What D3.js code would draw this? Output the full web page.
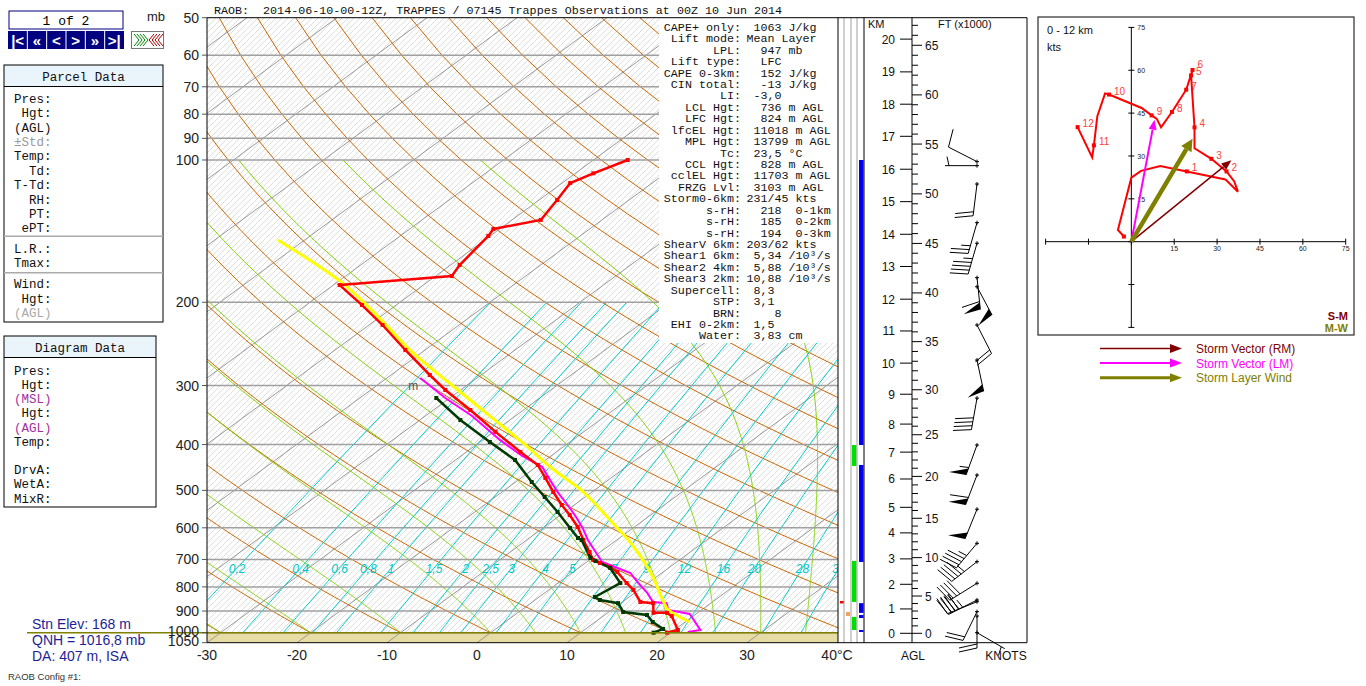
<!DOCTYPE html>
<html>
<head>
<meta charset="utf-8">
<script src="https://cdnjs.cloudflare.com/ajax/libs/d3/7.8.5/d3.min.js"></script>
<style>
body { margin: 0; background: #fff; }
svg { display: block; }
.mono { font-family: "Liberation Mono", "DejaVu Sans Mono", monospace; }
.sans { font-family: "Liberation Sans", Arial, sans-serif; }
</style>
</head>
<body>
<svg></svg>
<script>
let width = 1366
let height = 686

// sounding axes
let pressureTicks = [50, 60, 70, 80, 90, 100, 200, 300, 400, 500, 600, 700, 800, 900, 1000, 1050]
let pressureLines = [60, 70, 80, 90, 100, 200, 300, 400, 500, 600, 700, 800, 900, 1000]
let tempTicks = [-30, -20, -10, 0, 10, 20, 30, 40]
let tempTickLabels = ["-30", "-20", "-10", "0", "10", "20", "30", "40°C"]
let mixRatios = [0.2, 0.4, 0.6, 0.8, 1, 1.5, 2, 2.5, 3, 4, 5, 7, 9, 12, 16, 20, 28, 36]
let mixLabels = ["0,2", "0,4", "0,6", "0,8", "1", "1,5", "2", "2,5", "3", "4", "5", "7", "9", "12", "16", "20", "28", "36"]
let moistThetas = [-30, -20, -10, 0, 5, 10, 15, 20, 25, 30, 35]
let surfaceP = 1000

// temperature (red)
let tempP = [100, 106.7, 111.9, 121.5, 133.9, 139.9, 144.8, 166.8, 176, 183.9, 202.7, 223.4, 252.3, 285, 306.6, 338, 376, 414.6, 441.8, 470.6, 503.9, 536.8, 563.6, 597.5, 636.7, 675, 701.6, 712, 726, 744, 785, 812, 861, 866, 908, 908, 922, 987, 1000]
let tempT = [-56.2, -58.0, -59.1, -58.0, -56.8, -60.7, -60.2, -59.0, -58.2, -69.3, -63.8, -58.5, -52.2, -45.7, -41.7, -35.9, -29.8, -24.0, -20.1, -17.3, -14.3, -11.4, -9.0, -6.3, -3.7, -1.2, 0.4, 1.6, 3.3, 4.9, 7.6, 9.4, 12.0, 13.6, 15.1, 16.6, 17.6, 20.4, 19.6]
// dewpoint (dark green)
let dewP = [318.8, 354.9, 395, 431, 480, 516.3, 555.4, 600.4, 630.5, 636.7, 695, 705, 729.5, 785, 840.5, 852.7, 866, 904, 917.5, 949.3, 982, 1000]
let dewT = [-41.5, -35.5, -28.9, -23.4, -18.2, -14.5, -10.8, -7.0, -4.6, -3.9, -0.2, 0.8, 3.5, 6.9, 6.2, 7.2, 9.7, 11.6, 14.7, 16.4, 18.6, 18.1]
// virtual temperature (magenta)
let virtP = [289.2, 318.8, 348, 391, 422.8, 446, 475, 506.3, 539.5, 569, 600.4, 636.7, 708.5, 726, 747.6, 785, 824, 861, 866, 895, 913, 987, 996.6]
let virtT = [-46.3, -40.5, -34.8, -28.1, -23.2, -19.3, -16.5, -13.6, -10.5, -8.0, -5.6, -3.2, 1.7, 3.9, 6.5, 8.9, 11.4, 13.4, 15.1, 16.3, 19.3, 22.9, 21.8]
// parcel (yellow)
let parcelP = [147.6, 180, 223, 250, 300, 350, 400, 450, 500, 550, 600, 636.7, 679, 762, 853, 895, 949]
let parcelT = [-83, -70, -58.2, -52.2, -41.6, -32.5, -24.6, -17.9, -11.4, -6.3, -1.8, 1.3, 4.4, 9.6, 14.2, 16.3, 20.5]

// height scale
let kmLevels = [0, 1, 2, 3, 4, 5, 6, 7, 8, 9, 10, 11, 12, 13, 14, 15, 16, 17, 18, 19, 20]
let kmPressure = [1003, 890.8, 790, 698, 615, 543, 473, 415, 362, 313, 269, 230, 197, 168, 143.6, 122.5, 104.6, 89.1, 76.2, 65.1, 55.5]
let ftTicks = d3.range(0, 68)

// layer bars in the strip
let blueBars = [[100, 400.8], [441.8, 708.5], [866, 908], [917.5, 931], [987, 996.6]]
let greenBars = [[400.8, 444], [705, 861], [926, 987]]

// wind barbs
let barbP = [100.8, 102.8, 112.4, 135.7, 150, 177.4, 185.4, 223.4, 265, 319, 400.8, 464, 548, 647, 707.6, 786, 852.7, 860, 902.6, 922, 1000]
let barbDir = [297, 270, 187, 196, 196, 174, 152, 153, 168, 190, 200, 201, 202, 220, 232, 238, 243, 248, 206, 180, 120]
let barbSpd = [10, 5, 20, 25, 45, 60, 50, 20, 50, 40, 55, 60, 50, 45, 45, 40, 45, 40, 20, 20, 5]

// hodograph
let hodoU = [-2.6, -4.7, 0, 3.4, 10.1, 19.4, 32.9, 37.3, 36.0, 33.3, 28.0, 22.1, 22.1, 20.9, 21.4, 19.2, 14.2, 10.4, 8.9, 7.1, 3.6, -7.8, -9.2, -11.9, -13.1, -13.7, -18.8]
let hodoV = [1.8, 4.1, 22.4, 24.8, 26.5, 24.6, 21.8, 17.5, 21.1, 24.6, 29.0, 32.7, 40.0, 58.2, 60.1, 53.2, 45.4, 40.0, 43.0, 44.2, 46.8, 51.5, 51.9, 43.9, 33.7, 29.5, 40.1]
let hodoKm = [0, null, null, null, null, 1, null, null, null, 2, 3, null, 4, 5, 6, 7, 8, null, null, 9, null, 10, null, null, 11, null, 12]
let hodoTicks = [-30, -15, 0, 15, 30, 45, 60, 75]
let stormRM = [35.0, 28.5]
let stormLM = [8.1, 42.7]
let layerWind = [21.4, 36.0]

// text panels
let titleText = "RAOB:  2014-06-10-00-12Z, TRAPPES / 07145 Trappes Observations at 00Z 10 Jun 2014"
let paramLabels = ["CAPE+ only:", "Lift mode:", "LPL:", "Lift type:", "CAPE 0-3km:", "CIN total:", "LI:", "LCL Hgt:", "LFC Hgt:", "lfcEL Hgt:", "MPL Hgt:", "Tc:", "CCL Hgt:", "cclEL Hgt:", "FRZG Lvl:", "Storm0-6km:", "s-rH:", "s-rH:", "s-rH:", "ShearV 6km:", "Shear1 6km:", "Shear2 4km:", "Shear3 2km:", "Supercell:", "STP:", "BRN:", "EHI 0-2km:", "Water:"]
let paramValues = [" 1063 J/kg", "Mean Layer", "  947 mb", "  LFC", "  152 J/kg", "  -13 J/kg", " -3,0", "  736 m AGL", "  824 m AGL", " 11018 m AGL", " 13799 m AGL", " 23,5 °C", "  828 m AGL", " 11703 m AGL", " 3103 m AGL", "231/45 kts", "  218  0-1km", "  185  0-2km", "  194  0-3km", "203/62 kts", " 5,34 /10³/s", " 5,88 /10³/s", "10,88 /10³/s", " 8,3", " 3,1", "    8", " 1,5", " 3,83 cm"]
let parcelGroups = [["Pres:", "Hgt:", "(AGL)", "±Std:", "Temp:", "Td:", "T-Td:", "RH:", "PT:", "ePT:"], ["L.R.:", "Tmax:"], ["Wind:", "Hgt:", "(AGL)"]]
let diagramLabels = ["Pres:", "Hgt:", "(MSL)", "Hgt:", "(AGL)", "Temp:", "", "DrvA:", "WetA:", "MixR:"]
let navLabels = ["|<", "«", "<", ">", "»", ">|"]
let stationLines = ["Stn Elev: 168 m", "QNH = 1016,8 mb", "DA: 407 m, ISA"]

let svg = d3.select('svg')
            .attr('width', width)
            .attr('height', height)

let plotLeft = 207
let plotRight = 838
let plotTop = 17.7
let plotBottom = 642.7
let skew = 1.36

let y = d3.scaleLog().domain([50, 1050]).range([plotTop, plotBottom])
let tx = d3.scaleLinear().domain([-30, 40]).range([207, 837])
let sx = (t, p) => tx(t) + skew * (plotBottom - y(p))
let skewLine = d3.line().x(d => sx(d[1], d[0])).y(d => y(d[0]))

let esat = t => 6.112 * Math.exp(17.67 * t / (t + 243.5))
let moistRate = (tk, p) => {
    let es = esat(tk - 273.15)
    let rs = 0.622 * es / (p - es)
    let a = 287 * tk + 2.5e6 * rs
    let b = 1004 + 2.5e6 * 2.5e6 * rs * 0.622 / (287 * tk * tk)
    return a / (b * p)
}
let moistAdiabat = thw => {
    let pts = []
    let tk = thw + 273.15
    for (let p = 1000; p >= 100; p -= 2) {
        pts.push([p, tk - 273.15])
        let k1 = moistRate(tk, p)
        let k2 = moistRate(tk - 2 * k1, p - 2)
        tk = tk - (k1 + k2)
    }
    return pts
}
let mixTemp = (w, p) => {
    let l = Math.log(w * p / (622 + w) / 6.112)
    return 243.5 * l / (17.67 - l)
}

let defs = svg.append('defs')
defs.append('clipPath').attr('id', 'plotClip')
    .append('rect')
    .attr('x', plotLeft).attr('y', plotTop)
    .attr('width', plotRight - plotLeft).attr('height', plotBottom - plotTop)
defs.append('clipPath').attr('id', 'airClip')
    .append('rect')
    .attr('x', plotLeft).attr('y', plotTop)
    .attr('width', plotRight - plotLeft).attr('height', y(surfaceP) - plotTop)
let hatch = defs.append('pattern').attr('id', 'hatch')
    .attr('patternUnits', 'userSpaceOnUse')
    .attr('width', 6).attr('height', 6)
hatch.append('path')
     .attr('d', 'M0,6 L6,0 M-1,1 L1,-1 M5,7 L7,5')
     .attr('stroke', '#d6d6d6')
     .attr('stroke-width', 0.8)

let drawGrid = () => {
    let g = svg.append('g').attr('clip-path', 'url(#plotClip)')
    g.append('rect')
     .attr('x', plotLeft).attr('y', plotTop)
     .attr('width', plotRight - plotLeft).attr('height', y(surfaceP) - plotTop)
     .attr('fill', 'url(#hatch)')
    g.append('rect')
     .attr('x', plotLeft).attr('y', y(surfaceP))
     .attr('width', plotRight - plotLeft).attr('height', plotBottom - y(surfaceP))
     .attr('fill', '#e6dca4')

    let isotherms = d3.range(-140, 50, 10)
    g.selectAll('.iso').data(isotherms).enter().append('path')
     .attr('d', t => skewLine([[1050, t], [50, t]]))
     .attr('stroke', '#999').attr('stroke-width', 1).attr('fill', 'none')

    let air = g.append('g').attr('clip-path', 'url(#airClip)')
    let dryThetas = d3.range(-30, 250, 10)
    air.selectAll('.dry').data(dryThetas).enter().append('path')
       .attr('d', th => skewLine(d3.range(50, 1001, 10).map(p => [p, (th + 273.15) * Math.pow(p / 1000, 0.2857) - 273.15])))
       .attr('stroke', '#cc6600').attr('stroke-width', 1).attr('fill', 'none')
    air.selectAll('.moist').data(moistThetas).enter().append('path')
       .attr('d', th => skewLine(moistAdiabat(th)))
       .attr('stroke', '#7fd000').attr('stroke-width', 1).attr('fill', 'none')
    air.selectAll('.mix').data(mixRatios).enter().append('path')
       .attr('d', w => skewLine(d3.range(200, 1001, 10).map(p => [p, mixTemp(w, p)])))
       .attr('stroke', '#00cccc').attr('stroke-width', 1).attr('fill', 'none')

    g.selectAll('.pline').data(pressureLines).enter().append('line')
     .attr('x1', plotLeft).attr('x2', plotRight)
     .attr('y1', p => y(p)).attr('y2', p => y(p))
     .attr('stroke', '#a0a0a0').attr('stroke-width', 1.5)

    g.selectAll('.mixlab').data(mixRatios).enter().append('text')
     .attr('class', 'sans')
     .attr('x', w => sx(mixTemp(w, 730), 730))
     .attr('y', y(730) + 4.5)
     .attr('text-anchor', 'middle')
     .attr('font-size', 12).attr('font-style', 'italic')
     .attr('fill', '#00c8c8')
     .text((w, i) => mixLabels[i])
}

let drawParams = () => {
    svg.append('rect')
       .attr('x', 659).attr('y', plotTop)
       .attr('width', plotRight - 659).attr('height', 343 - plotTop)
       .attr('fill', '#fff')
    let g = svg.append('g').attr('class', 'mono').attr('font-size', 11.7).attr('fill', '#111')
    paramLabels.forEach((lab, i) => {
        g.append('text').attr('x', 741).attr('y', 30.8 + i * 11.43)
         .attr('text-anchor', 'end').attr('xml:space', 'preserve').text(lab)
        g.append('text').attr('x', 746.5).attr('y', 30.8 + i * 11.43)
         .attr('xml:space', 'preserve').text(paramValues[i])
    })
}

let drawProfiles = () => {
    let g = svg.append('g').attr('clip-path', 'url(#plotClip)')
    let zip = (ps, ts) => ps.map((p, i) => [p, ts[i]])
    let virt = zip(virtP, virtT)
    let temp = zip(tempP, tempT)
    let dew = zip(dewP, dewT)
    let parcel = zip(parcelP, parcelT)
    g.append('path').attr('d', skewLine(virt))
     .attr('stroke', '#ff00ff').attr('stroke-width', 2).attr('fill', 'none')
    g.append('path').attr('d', d3.line().curve(d3.curveMonotoneY).x(d => sx(d[1], d[0])).y(d => y(d[0]))(parcel))
     .attr('stroke', '#ffff00').attr('stroke-width', 3).attr('fill', 'none')
    g.append('path').attr('d', skewLine(temp))
     .attr('stroke', '#ff0000').attr('stroke-width', 2.5).attr('fill', 'none')
    g.append('path').attr('d', skewLine(dew))
     .attr('stroke', '#003a00').attr('stroke-width', 2.5).attr('fill', 'none')
    g.selectAll('.tm').data(temp).enter().append('rect')
     .attr('x', d => sx(d[1], d[0]) - 2).attr('y', d => y(d[0]) - 2)
     .attr('width', 4).attr('height', 4).attr('fill', '#ff0000')
    g.selectAll('.dm').data(dew).enter().append('rect')
     .attr('x', d => sx(d[1], d[0]) - 2).attr('y', d => y(d[0]) - 2)
     .attr('width', 4).attr('height', 4).attr('fill', '#003a00')
    g.append('text').attr('class', 'sans')
     .attr('x', sx(-46.5, 300)).attr('y', y(300) + 4)
     .attr('font-size', 12).attr('fill', '#555').text('m')
}

let drawFrame = () => {
    svg.append('line')
       .attr('x1', 27).attr('x2', plotRight)
       .attr('y1', y(surfaceP)).attr('y2', y(surfaceP))
       .attr('stroke', '#808000').attr('stroke-width', 1.5)
    svg.append('path')
       .attr('d', `M${plotLeft},${plotTop} V${plotBottom} H${plotRight} V${plotTop} Z`)
       .attr('stroke', '#000').attr('stroke-width', 1).attr('fill', 'none')

    svg.selectAll('.ptick').data(pressureTicks).enter().append('line')
       .attr('x1', plotLeft - 5).attr('x2', plotLeft)
       .attr('y1', p => y(p)).attr('y2', p => y(p))
       .attr('stroke', '#555')
    svg.selectAll('.plab').data(pressureTicks).enter().append('text')
       .attr('class', 'sans')
       .attr('x', 199).attr('y', p => y(p) + (p >= 1000 ? 3 : 5))
       .attr('text-anchor', 'end').attr('font-size', 14).attr('fill', '#222')
       .text(p => p)
    svg.selectAll('.tlab').data(tempTicks).enter().append('text')
       .attr('class', 'sans')
       .attr('x', t => tx(t)).attr('y', 660)
       .attr('text-anchor', 'middle').attr('font-size', 14).attr('fill', '#222')
       .text((t, i) => tempTickLabels[i])

    svg.append('text').attr('class', 'mono')
       .attr('x', 214).attr('y', 13.5).attr('font-size', 11.7).attr('fill', '#111')
       .attr('xml:space', 'preserve').text(titleText)
}

let drawBarb = (g, x, yb, dir, spd) => {
    let rad = dir * Math.PI / 180
    let dx = Math.sin(rad)
    let dy = -Math.cos(rad)
    let px = -dy
    let py = dx
    let len = 32
    let tipX = x + dx * len
    let tipY = yb + dy * len
    g.append('line').attr('x1', x).attr('y1', yb).attr('x2', tipX).attr('y2', tipY)
     .attr('stroke', '#000').attr('stroke-width', 1)
    g.append('path').attr('d', `M${x - 2},${yb} H${x + 2} M${x},${yb - 2} V${yb + 2}`)
     .attr('stroke', '#000').attr('stroke-width', 1)
    let s = Math.round(spd / 5) * 5
    let n50 = Math.floor(s / 50)
    s -= n50 * 50
    let n10 = Math.floor(s / 10)
    s -= n10 * 10
    let n5 = s >= 5 ? 1 : 0
    let pos = 0
    for (let i = 0; i < n50; i++) {
        let ax = tipX - dx * pos, ay = tipY - dy * pos
        let bx = tipX - dx * (pos + 7), by = tipY - dy * (pos + 7)
        let cx = ax + px * 17 + dx * 3, cy = ay + py * 17 + dy * 3
        g.append('path').attr('d', `M${ax},${ay} L${cx},${cy} L${bx},${by} Z`).attr('fill', '#000')
        pos += 8
    }
    for (let i = 0; i < n10; i++) {
        let ax = tipX - dx * pos, ay = tipY - dy * pos
        g.append('line').attr('x1', ax).attr('y1', ay)
         .attr('x2', ax + px * 18 + dx * 4).attr('y2', ay + py * 18 + dy * 4)
         .attr('stroke', '#000').attr('stroke-width', 1)
        pos += 4
    }
    if (n5) {
        if (pos === 0) pos = 4
        let ax = tipX - dx * pos, ay = tipY - dy * pos
        g.append('line').attr('x1', ax).attr('y1', ay)
         .attr('x2', ax + px * 9 + dx * 2).attr('y2', ay + py * 9 + dy * 2)
         .attr('stroke', '#000').attr('stroke-width', 1)
    }
}

let drawWindPanel = () => {
    let hY = d3.scaleLinear().domain(kmLevels).range(kmPressure.map(p => y(p)))
    let g = svg.append('g')
    g.selectAll('.blue').data(blueBars).enter().append('rect')
     .attr('x', 859).attr('y', d => y(d[0])).attr('width', 4.5)
     .attr('height', d => y(d[1]) - y(d[0])).attr('fill', '#0000ee')
    g.selectAll('.green').data(greenBars).enter().append('rect')
     .attr('x', 852).attr('y', d => y(d[0])).attr('width', 4.5)
     .attr('height', d => y(d[1]) - y(d[0])).attr('fill', '#00e000')
    g.append('rect').attr('x', 840).attr('y', y(861) - 1).attr('width', 4).attr('height', 2.5).attr('fill', '#ee0000')
    g.append('rect').attr('x', 846).attr('y', y(904)).attr('width', 4).attr('height', y(922) - y(904)).attr('fill', '#f4a060')
    g.selectAll('.strip').data([844, 851, 857]).enter().append('line')
     .attr('x1', d => d).attr('x2', d => d).attr('y1', plotTop).attr('y2', plotBottom)
     .attr('stroke', '#a0a0a0').attr('stroke-width', 1)
    g.append('line').attr('x1', 864).attr('x2', 864).attr('y1', plotTop).attr('y2', plotBottom).attr('stroke', '#000')
    g.append('path').attr('d', `M${plotRight},${plotTop} H1027 V${plotBottom} H${plotRight}`)
     .attr('stroke', '#000').attr('fill', 'none')
    g.append('line').attr('x1', 912).attr('x2', 912).attr('y1', plotTop).attr('y2', plotBottom).attr('stroke', '#000')

    g.selectAll('.kmtick').data(kmLevels).enter().append('line')
     .attr('x1', 900).attr('x2', 912).attr('y1', k => hY(k)).attr('y2', k => hY(k)).attr('stroke', '#000')
    g.selectAll('.kmlab').data(kmLevels).enter().append('text')
     .attr('class', 'sans').attr('x', 895).attr('y', k => hY(k) + 4.5)
     .attr('text-anchor', 'end').attr('font-size', 12).attr('fill', '#111').text(k => k)
    g.selectAll('.fttick').data(ftTicks).enter().append('line')
     .attr('x1', 912).attr('x2', f => f % 5 === 0 ? 922 : 918)
     .attr('y1', f => hY(f * 0.3048)).attr('y2', f => hY(f * 0.3048)).attr('stroke', '#000')
    g.selectAll('.ftlab').data(ftTicks.filter(f => f % 5 === 0)).enter().append('text')
     .attr('class', 'sans').attr('x', 925).attr('y', f => hY(f * 0.3048) + 4.5)
     .attr('font-size', 12).attr('fill', '#111').text(f => f)

    g.append('text').attr('class', 'sans').attr('x', 868).attr('y', 28).attr('font-size', 11).attr('fill', '#111').text('KM')
    g.append('text').attr('class', 'sans').attr('x', 938).attr('y', 28).attr('font-size', 11).attr('fill', '#111').text('FT (x1000)')
    g.append('text').attr('class', 'sans').attr('x', 913).attr('y', 660).attr('text-anchor', 'middle').attr('font-size', 12).attr('fill', '#111').text('AGL')
    g.append('text').attr('class', 'sans').attr('x', 1006).attr('y', 660).attr('text-anchor', 'middle').attr('font-size', 12).attr('fill', '#111').text('KNOTS')

    let bg = svg.append('g')
    barbP.forEach((p, i) => drawBarb(bg, 977, y(p), barbDir[i], barbSpd[i]))
}

let arrowHead = (g, x0, y0, x1, y1, len, hw, color) => {
    let l = Math.hypot(x1 - x0, y1 - y0)
    let ux = (x1 - x0) / l, uy = (y1 - y0) / l
    let bx = x1 - ux * len, by = y1 - uy * len
    g.append('path')
     .attr('d', `M${x1},${y1} L${bx - uy * hw},${by + ux * hw} L${bx + uy * hw},${by - ux * hw} Z`)
     .attr('fill', color)
    return [bx, by]
}

let drawHodograph = () => {
    let hx = d3.scaleLinear().domain([-30, 75]).range([1045.6, 1345.7])
    let hy = d3.scaleLinear().domain([-30, 75]).range([327.4, 27.4])
    let g = svg.append('g')
    g.append('rect').attr('x', 1038).attr('y', 17).attr('width', 316).attr('height', 318)
     .attr('fill', '#fff').attr('stroke', '#000')
    g.append('line').attr('x1', hx(-30)).attr('x2', hx(75)).attr('y1', hy(0)).attr('y2', hy(0)).attr('stroke', '#000')
    g.append('line').attr('x1', hx(0)).attr('x2', hx(0)).attr('y1', hy(-30)).attr('y2', hy(75)).attr('stroke', '#000')
    g.selectAll('.hxt').data(hodoTicks).enter().append('line')
     .attr('x1', d => hx(d)).attr('x2', d => hx(d)).attr('y1', hy(0) - 3).attr('y2', hy(0) + 3).attr('stroke', '#000')
    g.selectAll('.hyt').data(hodoTicks).enter().append('line')
     .attr('x1', hx(0) - 3).attr('x2', hx(0) + 3).attr('y1', d => hy(d)).attr('y2', d => hy(d)).attr('stroke', '#000')
    g.selectAll('.hxl').data(hodoTicks.filter(d => d > 0)).enter().append('text')
     .attr('class', 'sans').attr('x', d => hx(d)).attr('y', hy(0) + 9)
     .attr('text-anchor', 'middle').attr('font-size', 7).attr('fill', '#222').text(d => d)
    g.selectAll('.hyl').data(hodoTicks.filter(d => d > 0)).enter().append('text')
     .attr('class', 'sans').attr('x', hx(0) + 6).attr('y', d => hy(d) + 3)
     .attr('font-size', 7).attr('fill', '#222').text(d => d)

    g.append('text').attr('class', 'sans').attr('x', 1047).attr('y', 34).attr('font-size', 11).attr('fill', '#111').text('0 - 12 km')
    g.append('text').attr('class', 'sans').attr('x', 1047).attr('y', 51).attr('font-size', 11).attr('fill', '#111').text('kts')
    g.append('text').attr('class', 'sans').attr('x', 1348).attr('y', 320).attr('text-anchor', 'end')
     .attr('font-size', 11).attr('font-weight', 'bold').attr('fill', '#800000').text('S-M')
    g.append('text').attr('class', 'sans').attr('x', 1348).attr('y', 332).attr('text-anchor', 'end')
     .attr('font-size', 11).attr('font-weight', 'bold').attr('fill', '#808000').text('M-W')

    let pts = hodoU.map((u, i) => [u, hodoV[i], hodoKm[i]])
    g.append('path')
     .attr('d', d3.line().x(d => hx(d[0])).y(d => hy(d[1]))(pts))
     .attr('stroke', '#ff0000').attr('stroke-width', 2).attr('fill', 'none')
    let marked = pts.filter(d => d[2] !== null)
    g.selectAll('.hm').data(marked).enter().append('rect')
     .attr('x', d => hx(d[0]) - 2).attr('y', d => hy(d[1]) - 2)
     .attr('width', 4).attr('height', 4).attr('fill', '#ff0000')
    g.selectAll('.hl').data(marked.filter(d => d[2] > 0)).enter().append('text')
     .attr('class', 'sans').attr('x', d => hx(d[0]) + 5).attr('y', d => hy(d[1]) - (d[2] === 6 ? 1.5 : 0))
     .attr('font-size', 10).attr('fill', '#ff4040').text(d => d[2])

    let vec = (v, color, w, len, hw) => {
        let x0 = hx(0), y0 = hy(0), x1 = hx(v[0]), y1 = hy(v[1])
        let b = arrowHead(g, x0, y0, x1, y1, len, hw, color)
        g.append('line').attr('x1', x0).attr('y1', y0).attr('x2', b[0]).attr('y2', b[1])
         .attr('stroke', color).attr('stroke-width', w)
    }
    vec(stormRM, '#800000', 1.5, 10, 4)
    vec(stormLM, '#ff00ff', 2, 10, 4)
    vec(layerWind, '#808000', 4.5, 12, 6)

    let legend = [["Storm Vector (RM)", '#800000', 1.5], ["Storm Vector (LM)", '#ff00ff', 2], ["Storm Layer Wind", '#808000', 3]]
    legend.forEach((d, i) => {
        let ly = 348.5 + i * 14.6
        let b = arrowHead(g, 1100, ly, 1182, ly, 12, 4.5, d[1])
        g.append('line').attr('x1', 1100).attr('y1', ly).attr('x2', b[0]).attr('y2', ly)
         .attr('stroke', d[1]).attr('stroke-width', d[2])
        g.append('text').attr('class', 'sans').attr('x', 1196).attr('y', ly + 4.5)
         .attr('font-size', 12).attr('fill', d[1]).text(d[0])
    })
}

let drawLeftPanels = () => {
    let g = svg.append('g')
    g.append('rect').attr('x', 9).attr('y', 11).attr('width', 114).attr('height', 18)
     .attr('fill', '#fff').attr('stroke', '#000080')
    g.append('text').attr('class', 'mono').attr('x', 66).attr('y', 25)
     .attr('text-anchor', 'middle').attr('font-size', 13).attr('fill', '#000').text('1 of 2')
    g.append('rect').attr('x', 8).attr('y', 31).attr('width', 116).attr('height', 18).attr('fill', '#000080')
    let cell = 116 / 6
    navLabels.forEach((t, i) => {
        if (i > 0) {
            g.append('line').attr('x1', 8 + i * cell).attr('x2', 8 + i * cell).attr('y1', 31).attr('y2', 49)
             .attr('stroke', '#fff').attr('stroke-width', 1)
        }
        g.append('text').attr('class', 'sans').attr('x', 8 + (i + 0.5) * cell).attr('y', 45.5)
         .attr('text-anchor', 'middle').attr('font-size', 15).attr('font-weight', 'bold').attr('fill', '#fff').text(t)
    })
    g.append('text').attr('class', 'sans').attr('x', 156).attr('y', 21)
     .attr('text-anchor', 'middle').attr('font-size', 13).attr('fill', '#222').text('mb')
    g.append('rect').attr('x', 131.5).attr('y', 31.5).attr('width', 32).attr('height', 17)
     .attr('fill', '#fff').attr('stroke', '#777')
    d3.range(4).forEach(i => {
        g.append('path').attr('d', `M${134 + i * 3},${34} L${139 + i * 3},${40} L${134 + i * 3},${46}`)
         .attr('stroke', '#008000').attr('fill', 'none')
        g.append('path').attr('d', `M${154 + i * 3},${34} L${149 + i * 3},${40} L${154 + i * 3},${46}`)
         .attr('stroke', '#a00000').attr('fill', 'none')
    })

    let panel = (x, yTop, w, h, title, titleY) => {
        g.append('rect').attr('x', x).attr('y', yTop).attr('width', w).attr('height', 21.5)
         .attr('fill', '#eaf4fb')
        g.append('rect').attr('x', x).attr('y', yTop).attr('width', w).attr('height', h)
         .attr('fill', 'none').attr('stroke', '#000')
        g.append('line').attr('x1', x).attr('x2', x + w).attr('y1', yTop + 21.5).attr('y2', yTop + 21.5).attr('stroke', '#000')
        g.append('text').attr('class', 'mono').attr('x', x + w / 2).attr('y', titleY)
         .attr('text-anchor', 'middle').attr('font-size', 12.5).attr('fill', '#111').text(title)
    }
    panel(4, 65, 159, 257, 'Parcel Data', 80.5)
    panel(4, 336, 152, 171, 'Diagram Data', 351.5)

    let lab = (t, yc, color) => {
        g.append('text').attr('class', 'mono').attr('x', 51.4).attr('y', yc + 4.4)
         .attr('text-anchor', 'end').attr('font-size', 12.5).attr('fill', color).text(t)
    }
    let starts = [98.3, 248.3, 284]
    parcelGroups.forEach((grp, gi) => {
        grp.forEach((t, i) => {
            let color = '#111'
            if (t === '±Std:') color = '#999'
            if (gi === 2 && t === '(AGL)') color = '#aaa'
            lab(t, starts[gi] + i * 14.4, color)
        })
    })
    g.selectAll('.sep').data([236.3, 272.7]).enter().append('line')
     .attr('x1', 4).attr('x2', 163).attr('y1', d => d).attr('y2', d => d)
     .attr('stroke', '#aaa').attr('stroke-width', 1.5)
    diagramLabels.forEach((t, i) => {
        let color = (t === '(MSL)' || t === '(AGL)') ? '#a030a0' : '#111'
        lab(t, 370.3 + i * 14.2, color)
    })

    stationLines.forEach((t, i) => {
        g.append('text').attr('class', 'sans').attr('x', 32).attr('y', 628.5 + i * 16)
         .attr('font-size', 14).attr('fill', '#1e1e96').text(t)
    })
    g.append('text').attr('class', 'sans').attr('x', 8).attr('y', 680)
     .attr('font-size', 9.5).attr('fill', '#333').text('RAOB Config #1:')
}

drawGrid()
drawParams()
drawProfiles()
drawFrame()
drawWindPanel()
drawHodograph()
drawLeftPanels()
</script>
</body>
</html>
